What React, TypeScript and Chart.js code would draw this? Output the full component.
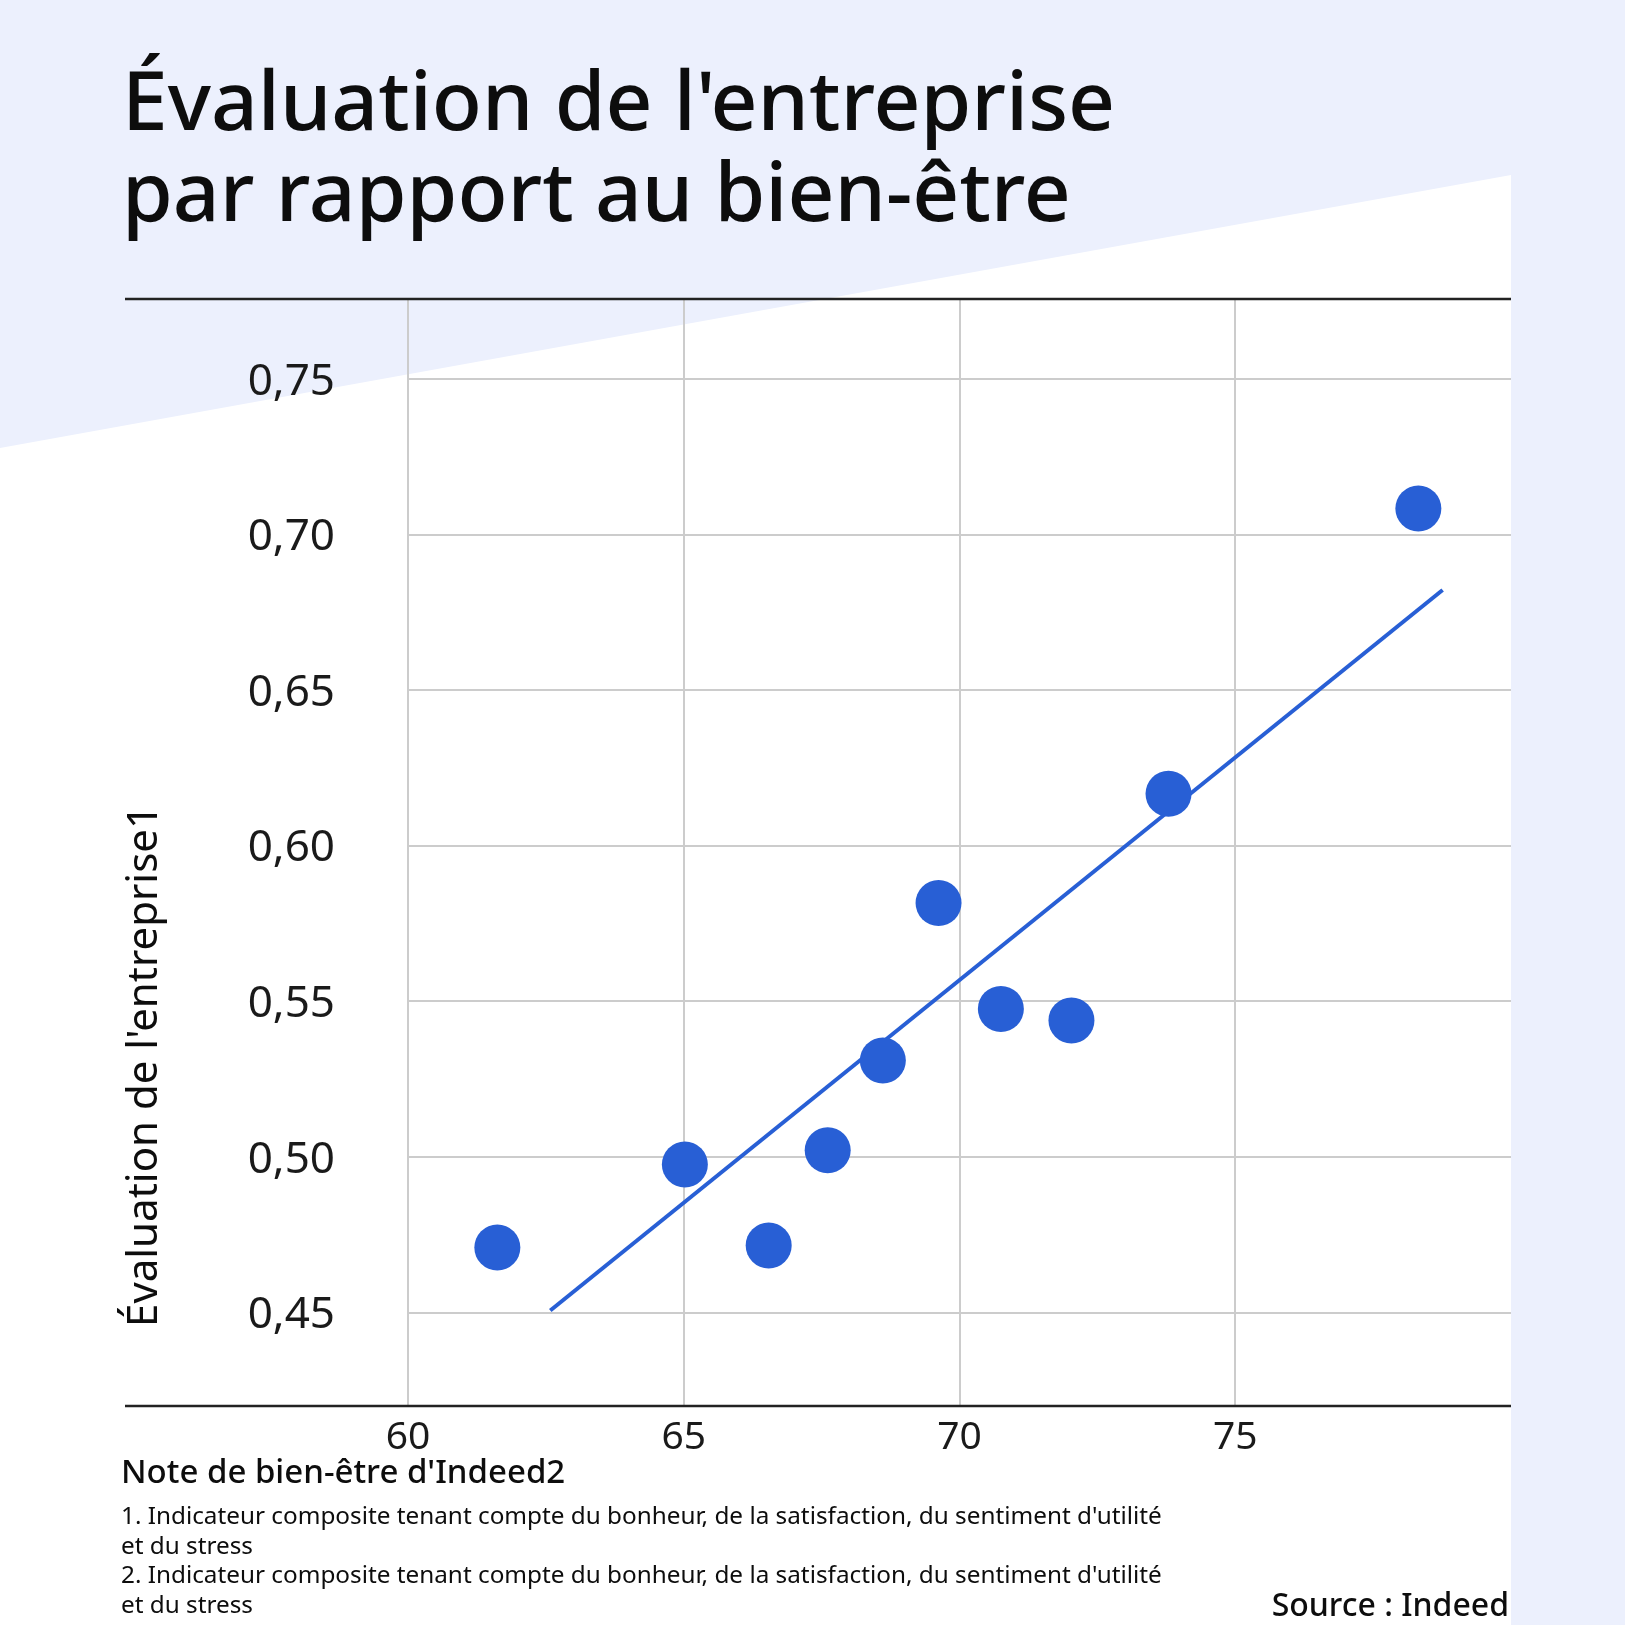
import React, { useEffect, useRef } from "react";
import { Chart, registerables } from "chart.js";

Chart.register(...registerables);

// ---- data ----
const wellbeingScores = [61.62, 65.02, 66.54, 67.61, 68.61, 69.62, 70.75, 72.03, 73.79, 78.32];
const companyRatings = [0.4709, 0.4976, 0.4716, 0.5022, 0.531, 0.5816, 0.5476, 0.5439, 0.6167, 0.7084];
const trendX = [62.58, 78.76];
const trendY = [0.4507, 0.6822];
const xTicks = [60, 65, 70, 75];
const yTicks = [0.45, 0.5, 0.55, 0.6, 0.65, 0.7, 0.75];
const titleLines = ["Évaluation de l'entreprise", "par rapport au bien-être"];
const yTitle = "Évaluation de l'entreprise1";
const xTitle = "Note de bien-être d'Indeed2";
const footnotes = [
  "1. Indicateur composite tenant compte du bonheur, de la satisfaction, du sentiment d'utilité",
  "et du stress",
  "2. Indicateur composite tenant compte du bonheur, de la satisfaction, du sentiment d'utilité",
  "et du stress",
];
const sourceText = "Source : Indeed";

const BLUE = "#285FD5";
const LAVENDER = "#ECF0FD";
const FONT = '"Noto Sans", "Open Sans", sans-serif';
const W = 1625;
const H = 1625;

const decorPlugin = {
  id: "decor",
  beforeDraw(chart: any) {
    const ctx = chart.ctx as CanvasRenderingContext2D;
    ctx.save();
    ctx.fillStyle = LAVENDER;
    ctx.fillRect(0, 0, W, H);
    ctx.fillStyle = "#ffffff";
    ctx.beginPath();
    ctx.moveTo(0, 448);
    ctx.lineTo(1511, 175);
    ctx.lineTo(1511, H);
    ctx.lineTo(0, H);
    ctx.closePath();
    ctx.fill();

    // title
    ctx.fillStyle = "#0d0d0d";
    ctx.textAlign = "left";
    ctx.textBaseline = "alphabetic";
    ctx.font = `500 82px ${FONT}`;
    ctx.fillText(titleLines[0], 122, 130);
    ctx.fillText(titleLines[1], 122, 221);

    // y title (rotated)
    ctx.save();
    ctx.translate(157, 1066);
    ctx.rotate(-Math.PI / 2);
    ctx.textAlign = "center";
    ctx.font = `400 42px ${FONT}`;
    ctx.fillText(yTitle, 0, 0);
    ctx.restore();

    // x title
    ctx.textAlign = "left";
    ctx.font = `500 33px ${FONT}`;
    ctx.fillText(xTitle, 121, 1483);

    // footnotes
    ctx.font = `400 24.3px ${FONT}`;
    const base = [1524, 1554, 1583, 1613];
    footnotes.forEach((t, i) => ctx.fillText(t, 121, base[i]));

    // source
    ctx.textAlign = "right";
    ctx.font = `500 32px ${FONT}`;
    ctx.fillText(sourceText, 1509, 1616);
    ctx.restore();
  },
  afterDraw(chart: any) {
    const ctx = chart.ctx as CanvasRenderingContext2D;
    const a = chart.chartArea;
    ctx.save();
    ctx.strokeStyle = "#222222";
    ctx.lineWidth = 2.5;
    ctx.beginPath();
    ctx.moveTo(125, a.top);
    ctx.lineTo(a.right, a.top);
    ctx.moveTo(125, a.bottom);
    ctx.lineTo(a.right, a.bottom);
    ctx.stroke();
    ctx.restore();
  },
};

export default function App() {
  const ref = useRef<HTMLCanvasElement | null>(null);

  useEffect(() => {
    if (!ref.current) return;
    const points = wellbeingScores.map((x, i) => ({ x, y: companyRatings[i] }));
    const trend = trendX.map((x, i) => ({ x, y: trendY[i] }));
    const chart = new Chart(ref.current, {
      type: "scatter",
      data: {
        datasets: [
          {
            type: "scatter",
            data: points,
            backgroundColor: BLUE,
            borderWidth: 0,
            pointRadius: 23,
            pointHoverRadius: 23,
            order: 0,
          } as any,
          {
            type: "line",
            data: trend,
            borderColor: BLUE,
            borderWidth: 4,
            pointRadius: 0,
            fill: false,
            order: 1,
          } as any,
        ],
      },
      options: {
        responsive: false,
        animation: false,
        devicePixelRatio: 1,
        layout: { padding: { left: 0, right: W - 1511, top: 299, bottom: H - 1406 - 100 } },
        plugins: { legend: { display: false }, tooltip: { enabled: false }, title: { display: false } },
        scales: {
          x: {
            type: "linear",
            min: 60,
            max: 80,
            afterBuildTicks: (s: any) => {
              s.ticks = xTicks.map((v) => ({ value: v }));
            },
            afterFit: (s: any) => {
              s.height = 100;
            },
            grid: { color: "#cccccc", lineWidth: 2, drawTicks: false },
            border: { display: false },
            ticks: {
              padding: 8,
              color: "#1a1a1a",
              font: { family: FONT, size: 39 },
              callback: (v: any) => String(v),
            },
          },
          y: {
            type: "linear",
            min: 0.42,
            max: 0.7757,
            afterBuildTicks: (s: any) => {
              s.ticks = yTicks.map((v) => ({ value: v }));
            },
            afterFit: (s: any) => {
              s.width = 408;
            },
            grid: { color: "#cccccc", lineWidth: 2, drawTicks: false },
            border: { display: false },
            ticks: {
              padding: 73,
              labelOffset: 3,
              color: "#1a1a1a",
              font: { family: FONT, size: 44 },
              callback: (v: any) => Number(v).toFixed(2).replace(".", ","),
            },
          },
        },
      },
      plugins: [decorPlugin],
    } as any);
    return () => chart.destroy();
  }, []);

  return (
    <div style={{ position: "fixed", left: 0, top: 0, width: W, height: H }}>
      <canvas ref={ref} width={W} height={H} style={{ width: W, height: H, display: "block" }} />
    </div>
  );
}
